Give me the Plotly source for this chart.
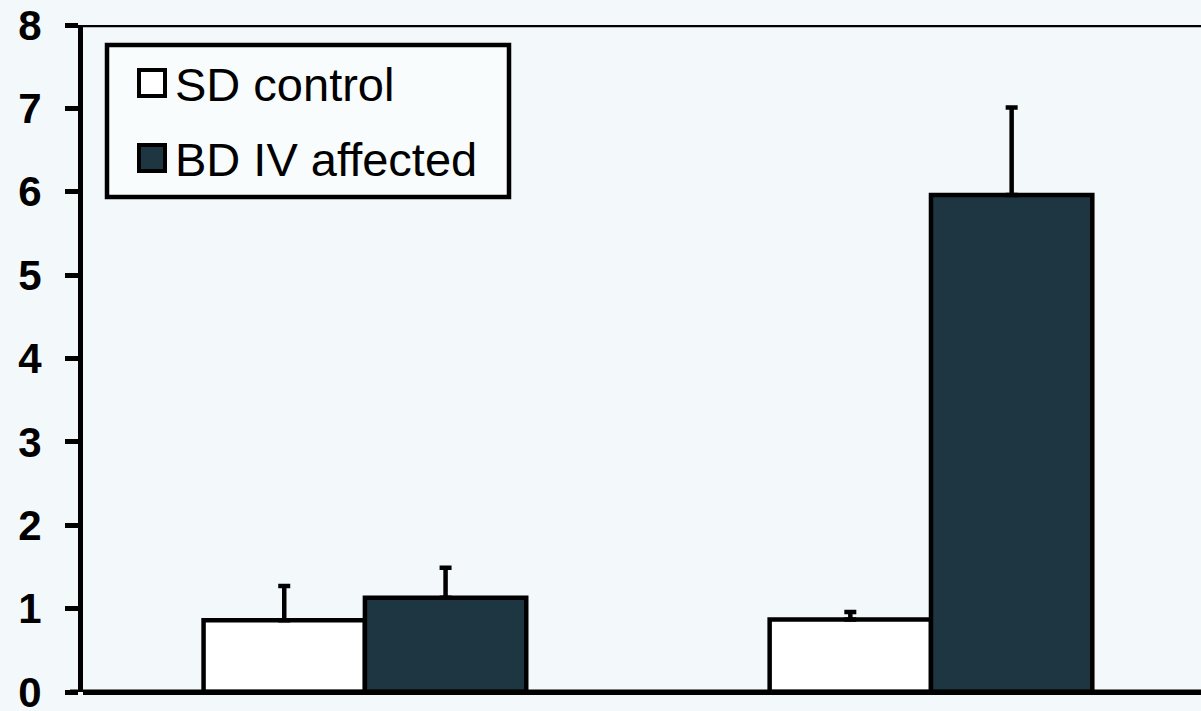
import plotly.graph_objects as go

categories = ["Group 1", "Group 2"]
series_names = ["SD control", "BD IV affected"]
sd_values = [0.86, 0.87]
sd_errors = [0.41, 0.09]
bd_values = [1.13, 5.96]
bd_errors = [0.36, 1.05]
y_ticks = [0, 1, 2, 3, 4, 5, 6, 7, 8]

fill_colors = ["#ffffff", "#1d3641"]
bg = "#f3f9fb"
font_family = "Arial, Liberation Sans, sans-serif"

x_pos = list(range(len(categories)))

fig = go.Figure()
for name, vals, errs, col in [
    (series_names[0], sd_values, sd_errors, fill_colors[0]),
    (series_names[1], bd_values, bd_errors, fill_colors[1]),
]:
    fig.add_trace(go.Bar(
        x=x_pos, y=vals, name=name,
        marker=dict(color=col, line=dict(color="black", width=4.5)),
        error_y=dict(type="data", array=errs, arrayminus=[0] * len(errs),
                     symmetric=False, color="black", thickness=4.5, width=6),
        showlegend=False,
        hovertext=[categories[i] for i in x_pos],
    ))

# plot area: x 83..1201, y 25..692
W, H = 1201, 711
L, R, T, B = 83, 0, 25, 19
pw, ph = W - L - R, H - T - B

def px(x):
    return (x - L) / pw

def py(y):
    return (H - B - y) / ph

shapes = []
# top border line at y=8
shapes.append(dict(type="line", xref="paper", yref="y", x0=px(70), x1=1.0,
                   y0=8, y1=8, line=dict(color="black", width=4.5), layer="above"))
# legend box
shapes.append(dict(type="rect", xref="paper", yref="paper",
                   x0=px(107), x1=px(509), y0=py(197), y1=py(45),
                   line=dict(color="black", width=4.5), fillcolor="#f8fcfd", layer="above"))
annotations = []
rows = [83, 158]
for i, yc in enumerate(rows):
    shapes.append(dict(type="rect", xref="paper", yref="paper",
                       x0=px(139), x1=px(165), y0=py(yc + 13), y1=py(yc - 13),
                       line=dict(color="black", width=4), fillcolor=fill_colors[i], layer="above"))
    annotations.append(dict(xref="paper", yref="paper", x=px(173), y=py(yc + 1),
                            xanchor="left", yanchor="middle", showarrow=False,
                            text=series_names[i],
                            font=dict(family=font_family, size=47, color="black")))

fig.update_layout(
    width=W, height=H,
    margin=dict(l=L, r=R, t=T, b=B, pad=0, autoexpand=False),
    paper_bgcolor=bg, plot_bgcolor=bg,
    barmode="group", bargap=0.43, bargroupgap=0,
    shapes=shapes, annotations=annotations,
    xaxis=dict(range=[-0.498, 1.477], showticklabels=False, ticks="",
               showgrid=False, zeroline=False, showline=False, fixedrange=True),
    yaxis=dict(range=[0, 8], tickvals=y_ticks, ticktext=[str(v) for v in y_ticks],
               ticks="outside", ticklen=13, tickwidth=4.5, tickcolor="black",
               showline=True, linewidth=5, linecolor="black", automargin=False,
               showgrid=False, zeroline=True, zerolinecolor="black", zerolinewidth=5,
               ticklabelstandoff=15, ticklabeloverflow="allow",
               tickfont=dict(family=font_family, size=42, color="black", weight="bold")),
)
# x axis baseline spanning from the tick region
fig.add_shape(type="line", xref="paper", yref="y", x0=px(70), x1=1.0, y0=0, y1=0,
              line=dict(color="black", width=5), layer="above")

fig.write_html("out.html", config={"displayModeBar": False},
               post_script="document.body.style.margin='0';document.body.style.overflow='hidden';")
